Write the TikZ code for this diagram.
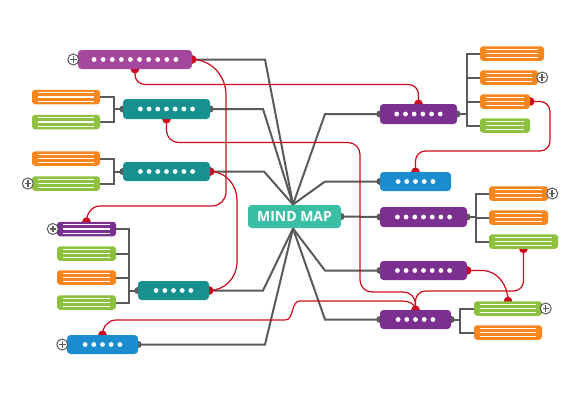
\documentclass[tikz,border=0pt]{standalone}
\usepackage{fontspec}
\setmainfont{Open Sans}
\usetikzlibrary{calc,backgrounds}
\definecolor{greyc}{HTML}{5A5A5A}
\definecolor{redc}{HTML}{CC0A1E}
\definecolor{purA}{HTML}{A5479D}
\definecolor{purB}{HTML}{7B2F8E}
\definecolor{tealc}{HTML}{17918F}
\definecolor{bluec}{HTML}{1B8DCF}
\definecolor{orac}{HTML}{F7861E}
\definecolor{grnc}{HTML}{8DC13F}
\definecolor{cenc}{HTML}{3BBFA4}
\newcommand\mmdots[3]{\foreach \i in {1,...,#2}{\fill[white] ($(#1.center)+({(\i-(#2+1)/2)*#3},0)$) circle (2.4);}}
\newcommand\mmstripes[1]{\foreach \dy in {-4.2,0,4.2}{\draw[white,line width=1.1pt] ($(#1.west)+(6,\dy)$) -- ($(#1.east)+(-6,\dy)$);}}
\begin{document}
\begin{tikzpicture}[x=1pt,y=-1pt,
 box/.style={rounded corners=3.5pt, inner sep=0pt, minimum height=19pt},
 bar/.style={rounded corners=3pt, inner sep=0pt, minimum height=14.5pt},
 conn/.style={draw=greyc, line width=2pt},
 rel/.style={draw=redc, line width=1.2pt},
 knob/.style={fill=greyc},
 rdot/.style={fill=redc},
 plus/.style={circle, draw=greyc, fill=white, line width=1pt, minimum size=11pt, inner sep=0pt,
   path picture={\draw[greyc,line width=1.5pt] ($(path picture bounding box.center)+(-3.2,0)$) -- ($(path picture bounding box.center)+(3.2,0)$) ($(path picture bounding box.center)+(0,-3.2)$) -- ($(path picture bounding box.center)+(0,3.2)$);}}]
\useasboundingbox (0,0) rectangle (561,400);

% main nodes
\node[box,fill=purA,minimum width=114pt] (p1) at (135,59.5) {};
\node[box,fill=tealc,minimum width=87pt,minimum height=20pt] (t1) at (166.5,109) {};
\node[box,fill=tealc,minimum width=87pt] (t2) at (166.5,171.5) {};
\node[box,fill=tealc,minimum width=71pt] (t3) at (173.5,290.5) {};
\node[box,fill=bluec,minimum width=71pt] (b1) at (102.5,344.5) {};
\node[box,fill=cenc,minimum width=93pt,minimum height=23pt,text=white,font=\fontsize{14}{14}\selectfont\bfseries] (cm) at (294.5,216.5) {MIND MAP};
\node[box,fill=purB,minimum width=77pt,minimum height=20pt] (r1) at (418.5,114) {};
\node[box,fill=bluec,minimum width=71pt] (b2) at (415.5,181.5) {};
\node[box,fill=purB,minimum width=87pt,minimum height=20pt] (r2) at (423.5,217) {};
\node[box,fill=purB,minimum width=87pt] (r3) at (423.5,270.5) {};
\node[box,fill=purB,minimum width=71pt] (r4) at (415.5,319.5) {};

% bars
\node[bar,fill=orac,minimum width=68pt] (oA1) at (66,97) {};
\node[bar,fill=grnc,minimum width=68pt] (gA2) at (66,122) {};
\node[bar,fill=orac,minimum width=68pt] (oB1) at (66,158.5) {};
\node[bar,fill=grnc,minimum width=68pt] (gB2) at (66,183.5) {};
\node[bar,fill=purB,minimum width=59pt] (pC1) at (86.5,229) {};
\node[bar,fill=grnc,minimum width=59pt] (gC2) at (86.5,253.5) {};
\node[bar,fill=orac,minimum width=59pt] (oC3) at (86.5,277.5) {};
\node[bar,fill=grnc,minimum width=59pt] (gC4) at (86.5,302.5) {};
\node[bar,fill=orac,minimum width=64pt] (oD1) at (512,53.5) {};
\node[bar,fill=orac,minimum width=58pt] (oD2) at (509,77.5) {};
\node[bar,fill=orac,minimum width=50pt] (oD3) at (505,101.5) {};
\node[bar,fill=grnc,minimum width=50pt] (gD4) at (505,125.5) {};
\node[bar,fill=orac,minimum width=59pt] (oE1) at (518.5,193.5) {};
\node[bar,fill=orac,minimum width=59pt] (oE2) at (518.5,217.5) {};
\node[bar,fill=grnc,minimum width=69pt] (gE3) at (523.5,241.5) {};
\node[bar,fill=grnc,minimum width=68pt] (gF1) at (508,308.5) {};
\node[bar,fill=orac,minimum width=68pt] (oF2) at (508,332.5) {};

% dots and stripes
\mmdots{p1}{10}{9.1}
\mmdots{t1}{7}{8.7}
\mmdots{t2}{7}{8.7}
\mmdots{t3}{5}{8.7}
\mmdots{b1}{5}{8.7}
\mmdots{r1}{6}{8.7}
\mmdots{b2}{5}{8.7}
\mmdots{r2}{7}{8.7}
\mmdots{r3}{7}{8.7}
\mmdots{r4}{5}{8.7}
\foreach \b in {oA1,gA2,oB1,gB2,pC1,gC2,oC3,gC4,oD1,oD2,oD3,gD4,oE1,oE2,gE3,gF1,oF2}{\mmstripes{\b}}

% plus markers
\node[plus] (x1) at ($(p1.west)+(-4.5,0)$) {};
\node[plus] (x2) at ($(gB2.west)+(-4,0)$) {};
\node[plus] (x3) at ($(pC1.west)+(-4,0)$) {};
\node[plus] (x4) at ($(b1.west)+(-4.5,0)$) {};
\node[plus] (x5) at ($(oD2.east)+(4,0)$) {};
\node[plus] (x6) at ($(oE1.east)+(4,0)$) {};
\node[plus] (x7) at ($(gF1.east)+(3.5,0)$) {};

\coordinate (T) at (293,204.5);
\coordinate (B) at (293,228.5);
\coordinate (ja) at (114,109);
\coordinate (jb) at (114,171.5);
\coordinate (jc) at (129,290.5);
\coordinate (jd) at (467,114);
\coordinate (je) at (476,217);
\coordinate (jf) at (460,319.5);

\begin{scope}[on background layer]
% grey connectors to centre
\draw[conn] (p1.east) -- (265,59.5) -- (T);
\draw[conn] (t1.east) -- (263,109) -- (T);
\draw[conn] (t2.east) -- (264,171.5) -- (T);
\draw[conn] (r1.west) -- (325,114) -- (T);
\draw[conn] (b2.west) -- (325,181.5) -- (T);
\draw[conn] (cm.east) -- (r2.west);
\draw[conn] (t3.east) -- (263,290.5) -- (B);
\draw[conn] (b1.east) -- (265,344.5) -- (B);
\draw[conn] (r3.west) -- (325,270.5) -- (B);
\draw[conn] (r4.west) -- (325,319.5) -- (B);
% brackets
\draw[conn] (t1.west) -- (ja);
\draw[conn] (oA1.east) -| (ja);
\draw[conn] (gA2.east) -| (ja);
\draw[conn] (t2.west) -- (jb);
\draw[conn] (oB1.east) -| (jb);
\draw[conn] (gB2.east) -| (jb);
\draw[conn] (t3.west) -- (jc);
\foreach \b in {pC1,gC2,oC3,gC4}{\draw[conn] (\b.east) -| (jc);}
\draw[conn] (r1.east) -- (jd);
\foreach \b in {oD1,oD2,oD3,gD4}{\draw[conn] (\b.west) -| (jd);}
\draw[conn] (r2.east) -- (je);
\foreach \b in {oE1,oE2,gE3}{\draw[conn] (\b.west) -| (je);}
\draw[conn] (r4.east) -- (jf);
\foreach \b in {gF1,oF2}{\draw[conn] (\b.west) -| (jf);}
% red relationships
\draw[rel,rounded corners=10pt] (p1.south) |- (r1.north |- 0,84.5) -- (r1.north);
\draw[rel] (p1.east) to[out=0,in=90] (226,95) -- (226,192) to[out=270,in=0] (212,206) -- (100,206) to[out=180,in=90] (pC1.north);
\draw[rel] (t2.east) to[out=0,in=90] (237,200) -- (237,262) to[out=270,in=0] (t3.east);
\draw[rel,rounded corners=12pt] (t1.south) |- (360,142.5) -- (360,292) -- (r4.north |- 0,292) -- (r4.north);
\draw[rel] (b1.north) to[out=90,in=180] (116,320) -- (285,320) to[out=0,in=180] (300,301) -- (402,301) to[out=0,in=90] (r4.north);
\draw[rel,rounded corners=10pt] (oD3.east) -- (550,101.5) -- (550,151) -- (b2.north |- 0,151) -- (b2.north);
\draw[rel,rounded corners=10pt] (gE3.south) -- (523.5,291) -- (r4.north |- 0,291) -- (r4.north);
\draw[rel] (r3.east) -- (482,270.5) to[out=0,in=90] (gF1.north);
% knobs
\foreach \k in {t1.west,t1.east,t2.west,t3.west,b1.east,cm.east,r1.west,r1.east,b2.west,r2.west,r2.east,r3.west,r4.west,r4.east}{\fill[knob] (\k) circle (3.5);}
\foreach \k in {p1.east,t2.east,t3.east,r3.east,p1.south,t1.south,r1.north,b2.north,oD3.east,pC1.north,b1.north,r4.north,gE3.south,gF1.north}{\fill[rdot] (\k) circle (4.3);}
\end{scope}
\end{tikzpicture}
\end{document}
